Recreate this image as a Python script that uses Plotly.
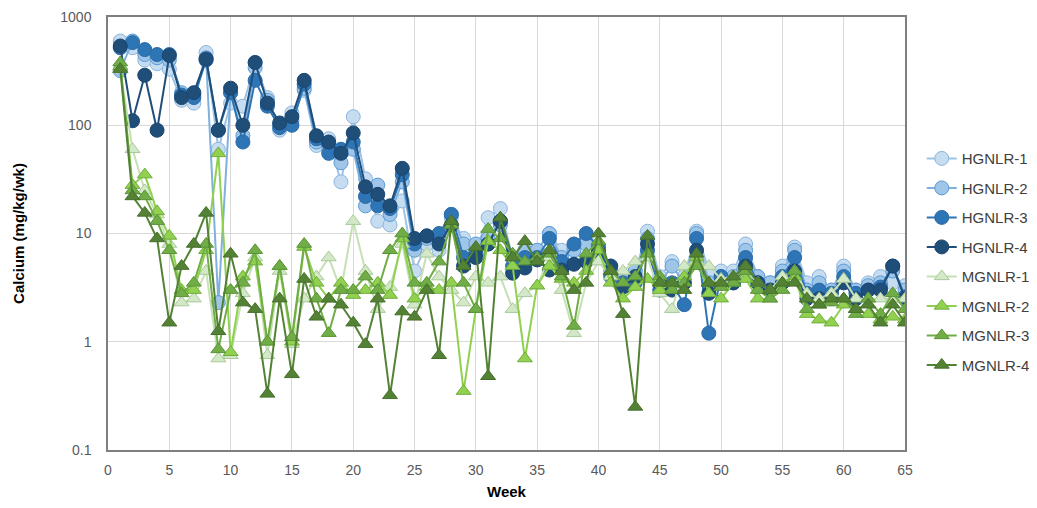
import plotly.graph_objects as go

# weeks 1..65
weeks = list(range(1, 66))

hgnlr_1 = [600, 520, 400, 370, 330, 170, 160, 470, 60, 160, 150, 380, 180, 90, 130, 210, 65, 75, 30, 120,
           32, 13, 12, 20, 4.5, 8, 7, 14, 9, 7, 14, 17, 6, 6.5, 7, 10, 7, 7.5, 9, 6,
           5, 4, 4.5, 10.5, 4, 5.5, 4, 10.5, 4.5, 4.5, 4.5, 8, 4, 3.5, 5, 7.5, 3.5, 4, 3, 5,
           3, 3.5, 4, 3.5, 3.3]
hgnlr_2 = [320, 600, 450, 420, 400, 200, 190, 420, 2.3, 200, 80, 340, 170, 100, 110, 220, 70, 60, 45, 60,
           18, 28, 15, 30, 7, 9, 9, 15, 8, 8, 9, 12, 6, 7, 7, 10, 6, 7, 8, 7,
           4.5, 4, 4.5, 9, 3.5, 5, 3.5, 10, 3.5, 4, 4, 7, 4, 3.5, 4.5, 7, 3, 3.5, 3, 4.5,
           3, 3.3, 3.5, 4.5, 3]
hgnlr_3 = [520, 580, 500, 450, 450, 190, 180, 400, 90, 200, 70, 260, 150, 95, 100, 240, 75, 55, 60, 70,
           22, 18, 17, 35, 8, 9.5, 10, 15, 6, 6.5, 8, 13, 5, 6, 6, 9, 5.5, 8, 10, 7.5,
           4, 3.5, 3.5, 7, 3, 3.5, 2.2, 9, 1.2, 4, 3.5, 6, 3.5, 3, 4, 6, 2.8, 3, 2.8, 4,
           2.8, 3, 3.2, 5, 2.6]
hgnlr_4 = [540, 110, 290, 90, 440, 180, 200, 410, 90, 220, 100, 380, 160, 105, 120, 260, 80, 70, 55, 85,
           27, 23, 18, 40, 9, 9.5, 8, 12, 5, 6, 8, 13, 4.3, 4.8, 5.7, 4.6, 4.6, 5.2, 5.5, 6.8,
           5, 3.2, 4, 8, 3.5, 3, 3.5, 7, 2.8, 3.5, 3.5, 5, 3.5, 3, 3.5, 4.5, 2.5, 2.5, 2.5, 3.5,
           2.5, 3, 3, 5, 2.5]

mgnlr_1 = [330, 60, 25, 15, 8, 2.3, 2.5, 4.5, 0.7, 0.75, 2.8, 6, 0.75, 4.5, 0.95, 2.5, 4, 6, 3, 13,
           4.5, 2, 3.2, 8, 2.2, 6.5, 4, 3, 2.3, 4, 3.5, 4, 2, 2.8, 3.3, 6, 3, 1.2, 3.5, 5.5,
           4, 4.5, 5.5, 6, 2.8, 2, 5, 5.5, 5, 3.8, 4, 4.5, 3.5, 3, 4, 4.5, 2.8, 2.5, 2.8, 3.8,
           2.5, 2.5, 2.5, 2.5, 2.5]
mgnlr_2 = [350, 28, 35, 16, 9.5, 3, 3, 7, 55, 0.8, 4, 5.5, 1, 5, 1, 7.5, 3.5, 2.5, 3.5, 2.7,
           3, 3.5, 2.7, 9, 2.5, 3.2, 3, 3.5, 0.35, 2, 8.5, 7, 5, 0.7, 3.3, 5, 3.8, 3.5, 4.5, 7,
           3.5, 2.5, 3.2, 3.8, 3, 3.5, 4, 6, 2.8, 2.5, 3.5, 3.8, 2.5, 2.5, 3.5, 4, 1.8, 1.6, 1.5, 2.2,
           2, 1.8, 1.6, 1.7, 1.6]
mgnlr_3 = [380, 25, 22, 13, 7, 2.8, 3.5, 8, 0.85, 3, 3.5, 7, 1, 5, 1.1, 8, 2.5, 1.2, 3, 3,
           4, 3, 7, 10, 3.5, 3.5, 5.5, 12, 3.5, 2, 11, 9, 6.5, 5.5, 6, 6.5, 4, 1.4, 6.5, 8.5,
           4.5, 3.5, 4, 6.5, 4, 3, 3.5, 5, 3.5, 3.2, 3.5, 4.5, 3, 2.5, 3, 4.5, 2, 2.2, 2.3, 2.5,
           1.8, 2.5, 1.8, 2.8, 2]
mgnlr_4 = [330, 22, 15.5, 9, 1.5, 5, 8, 15.5, 1.25, 6.5, 2.3, 2, 0.33, 2.5, 0.5, 3.8, 1.7, 2.5, 2.2, 1.5,
           0.95, 2.5, 0.32, 1.9, 1.7, 3, 0.75, 13, 5, 7.5, 0.48, 14, 6, 8.5, 5.5, 7, 4.5, 3, 3.5, 10,
           4.5, 1.8, 0.25, 9.5, 3.5, 3.5, 3, 6.5, 3.5, 3.5, 4, 5, 3.5, 3, 3.5, 3.5, 2.5, 2.2, 2.5, 2.5,
           2, 2.2, 1.5, 2.2, 1.5]

y_ticks = [0.1, 1, 10, 100, 1000]
y_tick_labels = ['0.1', '1', '10', '100', '1000']

# name, values, line colour, fill colour, marker edge, symbol
series = [
    ('HGNLR-1', hgnlr_1, '#9dc3e6', '#c6dcf1', '#8db5dd', 'circle'),
    ('HGNLR-2', hgnlr_2, '#7fb0de', '#9fc5e8', '#5b9bd5', 'circle'),
    ('HGNLR-3', hgnlr_3, '#2e75b6', '#2e75b6', '#2a6aa6', 'circle'),
    ('HGNLR-4', hgnlr_4, '#1f4e79', '#1f4e79', '#1b4570', 'circle'),
    ('MGNLR-1', mgnlr_1, '#c5e0b4', '#d3e8c6', '#a9c99a', 'triangle-up'),
    ('MGNLR-2', mgnlr_2, '#8fd14f', '#92d050', '#6fae3c', 'triangle-up'),
    ('MGNLR-3', mgnlr_3, '#70ad47', '#70ad47', '#5a9438', 'triangle-up'),
    ('MGNLR-4', mgnlr_4, '#548235', '#548235', '#476f2c', 'triangle-up'),
]

fig = go.Figure()
for name, vals, lc, fc, ec, sym in series:
    fig.add_trace(go.Scatter(
        x=weeks, y=vals, name=name, mode='lines+markers', legendgroup=name,
        line=dict(color=lc, width=2),
        marker=dict(symbol=sym, size=14 if sym == 'circle' else 13, color=fc,
                    line=dict(color=ec, width=1)),
    ))

# page body has an 8px margin, so the figure is sized to fit the window inside it
fig.update_layout(
    width=1029, height=492,
    margin=dict(l=100, r=132, t=9, b=50),
    paper_bgcolor='white', plot_bgcolor='white',
    font=dict(family='Liberation Sans, Arial, sans-serif', color='#595959', size=14),
    showlegend=True,
    legend=dict(xref='container', x=0.888, y=0.435, xanchor='left', yanchor='middle',
                font=dict(size=15, color='#404040'), tracegroupgap=7,
                bgcolor='rgba(0,0,0,0)'),
    xaxis=dict(
        range=[0, 65], dtick=5, tick0=0, automargin=False,
        showgrid=True, gridcolor='#d9d9d9', gridwidth=1,
        showline=True, linecolor='#7f7f7f', linewidth=1.5, mirror=True,
        zeroline=False, ticks='', ticklabelstandoff=6,
        title=dict(text='<b>Week</b>', font=dict(size=15, color='#000000'), standoff=20),
    ),
    yaxis=dict(
        type='log', range=[-1, 3], automargin=False,
        tickvals=y_ticks, ticktext=y_tick_labels,
        showgrid=True, gridcolor='#d9d9d9', gridwidth=1,
        showline=True, linecolor='#7f7f7f', linewidth=1.5, mirror=True,
        zeroline=False, ticks='', ticklabelstandoff=12,
        title=dict(text='<b>Calcium (mg/kg/wk)</b>', font=dict(size=15, color='#000000'), standoff=32),
    ),
)

fig.write_html('out.html')
